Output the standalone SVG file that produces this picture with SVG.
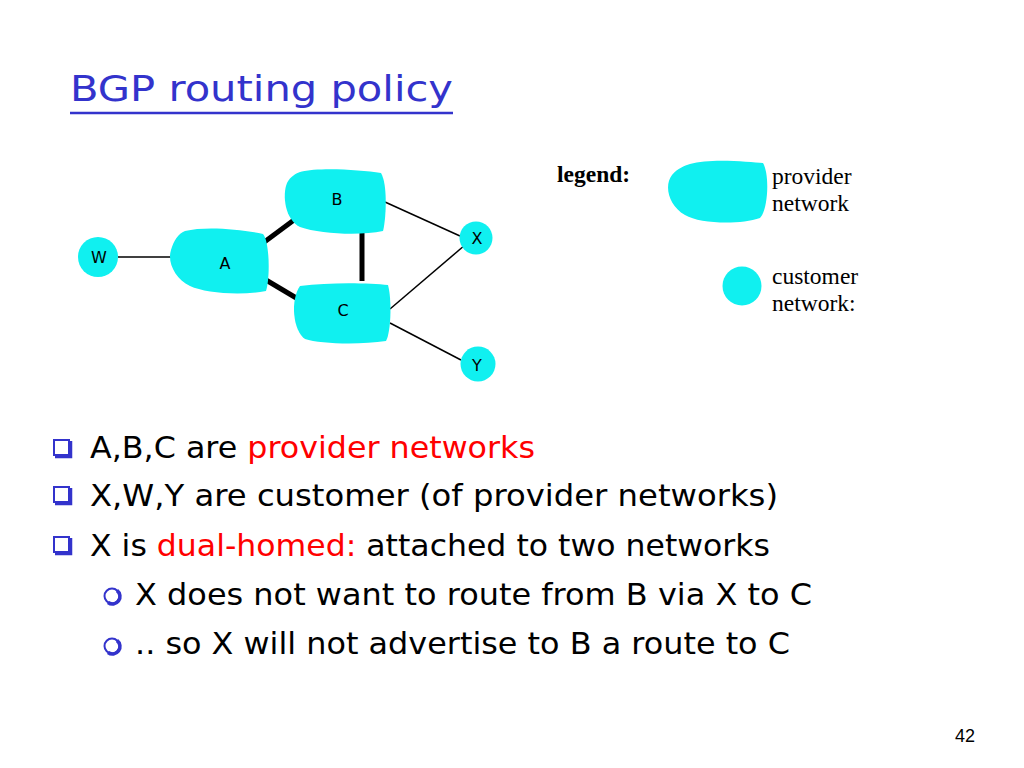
<svg xmlns="http://www.w3.org/2000/svg" width="1024" height="768" viewBox="0 0 1024 768">
<style>
.cyan{fill:#10F0F0;stroke:none}
.thin{stroke:#000;stroke-width:1.5;fill:none}
.thick{stroke:#000;stroke-width:5;fill:none}
.lbl{font-family:"DejaVu Sans","Liberation Sans",sans-serif;font-size:16px;fill:#000;text-anchor:middle}
.body{font-family:"DejaVu Sans","Liberation Sans",sans-serif;font-size:31px;fill:#000}
.red{fill:#FF0000}
.leg{font-family:"Liberation Serif",serif;font-size:23.5px;fill:#000}
.bul{fill:none;stroke:#3333CC;stroke-width:2}
.bsh{fill:none;stroke:#3333CC;stroke-width:3.5}
</style>
<defs>
<g id="sq"><rect class="bul" x="0" y="0" width="15" height="15"/><path class="bsh" d="M1,16.5 H16.5 V1"/></g>
<g id="ci"><circle class="bul" cx="0" cy="0" r="7.5"/><path class="bsh" d="M5,-5.5 A7.5,7.5 0 0 1 -4,6.5"/></g>
</defs>
<rect width="1024" height="768" fill="#fff"/>
<g id="title">
<text x="70" y="101" font-family="DejaVu Sans, Liberation Sans, sans-serif" font-size="36" fill="#3333CC" textLength="383" lengthAdjust="spacingAndGlyphs">BGP routing policy</text>
<line x1="70" y1="113" x2="453" y2="113" stroke="#3333CC" stroke-width="2.5"/>
</g>
<g id="connectors">
<line class="thin" x1="118" y1="257" x2="172" y2="257"/>
<line class="thick" x1="263" y1="243" x2="298" y2="217"/>
<line class="thick" x1="266" y1="280" x2="298" y2="299"/>
<line class="thick" x1="362" y1="231" x2="362" y2="281"/>
<line class="thin" x1="385" y1="202" x2="460" y2="236"/>
<line class="thin" x1="390" y1="309" x2="465" y2="245"/>
<line class="thin" x1="390" y1="323" x2="461" y2="360"/>
</g>
<g id="node-W"><circle class="cyan" cx="98" cy="257" r="20"/><text class="lbl" x="99" y="263">W</text></g>
<g id="node-A"><path class="cyan" d="M185,231 C205,226 240,229 263,234 C270,242 270,280 266,291 C240,296 205,293 190,286 C175,279 167,262 171,250 C174,240 178,234 185,231 Z"/><text class="lbl" x="225" y="269">A</text></g>
<g id="node-B"><path class="cyan" d="M300,172 C320,167 360,170 381,173 C388,185 386,220 383,231 C360,236 320,234 300,227 C285,220 282,195 287,183 C291,176 295,174 300,172 Z"/><text class="lbl" x="337" y="205">B</text></g>
<g id="node-C"><path class="cyan" d="M300,286 C330,282 370,283 388,285 C392,300 391,332 386,341 C360,345 320,344 305,339 C293,331 290,300 300,286 Z"/><text class="lbl" x="343" y="316">C</text></g>
<g id="node-X"><circle class="cyan" cx="476" cy="238" r="16.5"/><text class="lbl" x="477" y="244">X</text></g>
<g id="node-Y"><circle class="cyan" cx="478" cy="364" r="17.5"/><text class="lbl" x="477" y="371">Y</text></g>
<g id="legend">
<text class="leg" x="557" y="182" font-weight="bold">legend:</text>
<path class="cyan" d="M690,164 C710,158 750,162 763,163 C770,175 768,210 760,218 C740,225 700,224 685,215 C668,205 664,185 672,175 C678,168 684,166 690,164 Z"/>
<text class="leg" x="772" y="184">provider</text>
<text class="leg" x="772" y="211">network</text>
<circle class="cyan" cx="742" cy="286" r="19.5"/>
<text class="leg" x="772" y="284">customer</text>
<text class="leg" x="772" y="311">network:</text>
</g>
<g id="bullets">
<use href="#sq" x="54" y="440"/>
<use href="#sq" x="54" y="487"/>
<use href="#sq" x="54" y="537"/>
<use href="#ci" x="112" y="596"/>
<use href="#ci" x="112" y="646"/>
<text class="body" x="90" y="458" textLength="445" lengthAdjust="spacingAndGlyphs">A,B,C are <tspan class="red">provider networks</tspan></text>
<text class="body" x="90" y="506" textLength="688" lengthAdjust="spacingAndGlyphs">X,W,Y are customer (of provider networks)</text>
<text class="body" x="90" y="556" textLength="680" lengthAdjust="spacingAndGlyphs">X is <tspan class="red">dual-homed:</tspan> attached to two networks</text>
<text class="body" x="135" y="605" textLength="677" lengthAdjust="spacingAndGlyphs">X does not want to route from B via X to C</text>
<text class="body" x="135" y="654" textLength="655" lengthAdjust="spacingAndGlyphs">.. so X will not advertise to B a route to C</text>
</g>
<text x="955" y="742" font-family="Liberation Sans, sans-serif" font-size="18" fill="#000">42</text>
</svg>
